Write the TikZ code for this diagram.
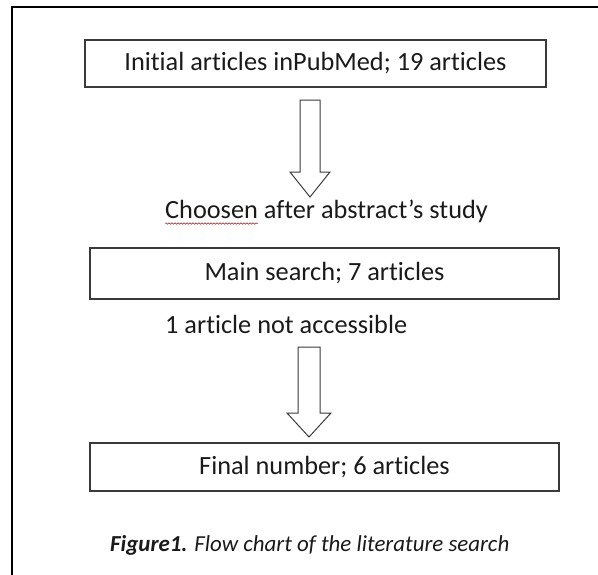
\documentclass[tikz,border=0pt]{standalone}
\usepackage{fontspec}
\setmainfont{Carlito}[Ligatures={NoCommon,NoRequired,NoContextual,TeX},Contextuals=NoAlternate]
\usetikzlibrary{decorations.pathmorphing}
\definecolor{stroke}{HTML}{3A3A3A}
\definecolor{txt}{HTML}{1A1A1A}
\newcommand{\nl}{\kern0pt{}}
\tikzset{
  stepbox/.style={draw=stroke, line width=1.3pt, minimum height=#1, inner sep=0pt, text=txt,
    font=\fontsize{26.3}{30}\selectfont},
  freetext/.style={anchor=base west, inner sep=0pt, text=txt, font=\fontsize{26.3}{30}\selectfont},
  blockarrow/.style={draw=stroke, line width=1pt, fill=white, line join=miter},
}
\begin{document}
\begin{tikzpicture}[x=1pt,y=-1pt]
\useasboundingbox (0,0) rectangle (598,574);
% frame (top and left edges only)
\draw[line width=2pt, black] (12,596) -- (12,7) -- (620,7);
% boxes
\node[stepbox=47pt, minimum width=461pt] (b1) at (315.5,63.5) {Init\nl ial art\nl icles inPubMed; 19 art\nl icles};
\node[stepbox=51pt, minimum width=469pt] (b2) at (324.5,273.5) {Main search; 7 art\nl icles};
\node[stepbox=48pt, minimum width=469pt] (b3) at (324.5,467) {F\nl inal number; 6 art\nl icles};
% free texts
\node[freetext] (t1) at (165,218) {Choosen after abstract’s study};
\draw[red!85!black, line width=0.5pt, decorate, decoration={snake, amplitude=0.8pt, segment length=3pt}]
  (165,223.5) -- (258,223.5);
\node[freetext] (t2) at (165,333) {1 art\nl icle not accessible};
% block arrows
\draw[blockarrow] (300,100) -- (320,100) -- (320,172) -- (330,172) -- (310,197) -- (290,172) -- (300,172) -- cycle;
\draw[blockarrow] (298,347) -- (320,347) -- (320,413) -- (331,413) -- (309,437) -- (287,413) -- (298,413) -- cycle;
% caption
\node[anchor=base west, inner sep=0pt, text=txt, font=\fontsize{22.9}{26}\selectfont\itshape] (cap) at (110,551)
  {\textbf{F\nl igure1.} Flow chart of the literature search};
\end{tikzpicture}
\end{document}
